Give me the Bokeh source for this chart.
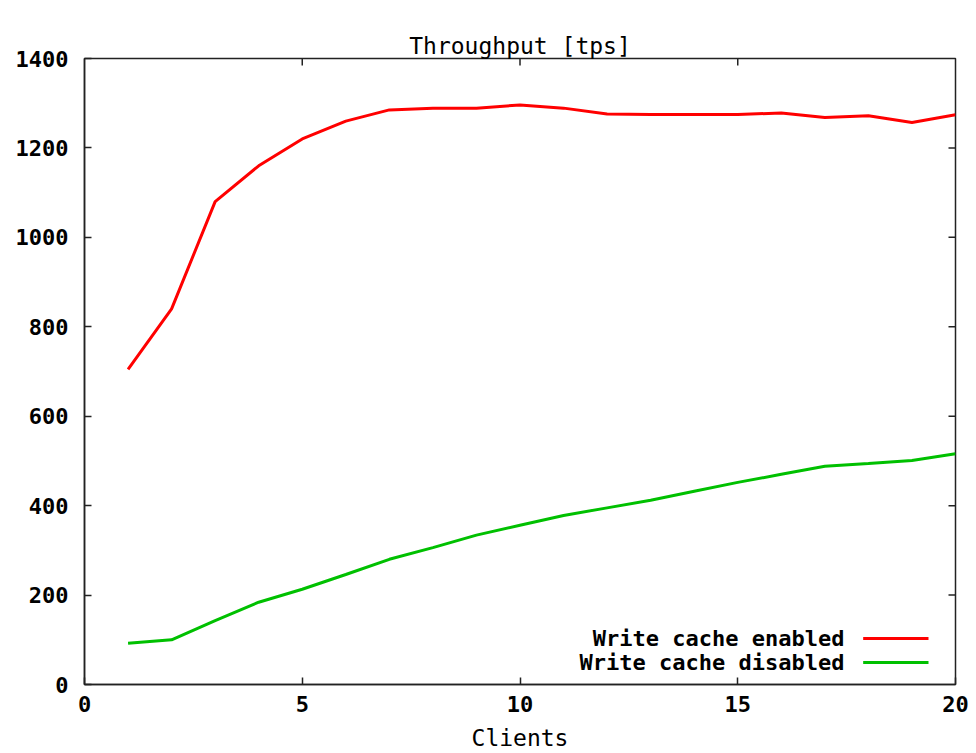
import math
from bokeh.plotting import figure
from bokeh.models import Range1d, FixedTicker, Label, Title, LinearAxis
from bokeh.embed import file_html
from bokeh.resources import INLINE

# Throughput measurements per number of clients
clients = list(range(1, 21))
tps_cache_enabled = [705, 840, 1080, 1160, 1220, 1260, 1285, 1289, 1289, 1296,
                     1289, 1276, 1275, 1275, 1275, 1278, 1268, 1272, 1257, 1274]
tps_cache_disabled = [92, 100, 143, 184, 213, 246, 280, 306, 334, 356,
                      378, 395, 412, 432, 452, 470, 488, 494, 501, 516]

series_labels = ["Write cache enabled", "Write cache disabled"]
series_colors = ["#ff0000", "#00c000"]

x_ticks = [0, 5, 10, 15, 20]
y_ticks = [0, 200, 400, 600, 800, 1000, 1200, 1400]
x_min, x_max = 0, 20
y_min, y_max = 0, 1400

FONT = "DejaVu Sans Mono"
AXIS_COLOR = "#222222"

p = figure(width=976, height=753, output_backend="svg", toolbar_location=None,
           x_range=Range1d(x_min, x_max), y_range=Range1d(y_min, y_max),
           min_border_left=84, min_border_right=21, min_border_top=58,
           min_border_bottom=20)
p.background_fill_color = "white"
p.border_fill_color = "white"
p.outline_line_color = AXIS_COLOR
p.outline_line_width = 1.5
p.xgrid.visible = False
p.ygrid.visible = False

xa = p.below[0]
ya = p.left[0]

# invisible top axis whose (hidden) outward ticks reserve a gap under the title
gap_axis = LinearAxis(ticker=FixedTicker(ticks=[]), axis_line_color=None,
                      major_tick_line_color=None, minor_tick_line_color=None,
                      major_tick_out=24, major_tick_in=0,
                      minor_tick_out=0, minor_tick_in=0)
p.add_layout(gap_axis, "above")

p.title = Title(text="Throughput [tps]", align="center",
                text_font=FONT, text_font_size="23px", text_font_style="normal",
                text_color="black", standoff=0)

xa.ticker = FixedTicker(ticks=x_ticks)
ya.ticker = FixedTicker(ticks=y_ticks)
for ax in (xa, ya):
    ax.axis_line_color = AXIS_COLOR
    ax.axis_line_width = 1.5
    ax.major_tick_line_color = AXIS_COLOR
    ax.major_tick_line_width = 1.5
    ax.major_tick_in = 7
    ax.major_tick_out = 0
    ax.minor_tick_line_color = None
    ax.major_label_text_font = FONT
    ax.major_label_text_font_style = "bold"
    ax.major_label_text_font_size = "22px"
    ax.major_label_text_color = "black"
xa.major_label_standoff = 11
ya.major_label_standoff = 16
xa.axis_label = "Clients"
xa.axis_label_text_font = FONT
xa.axis_label_text_font_size = "23px"
xa.axis_label_text_font_style = "normal"
xa.axis_label_text_color = "black"
xa.axis_label_standoff = 10

# mirrored tick marks on the top and right edges (half of each dash is clipped)
inner_x = [t for t in x_ticks if x_min < t < x_max]
inner_y = [t for t in y_ticks if y_min < t < y_max]
p.scatter(inner_x, [y_max] * len(inner_x), marker="dash", angle=math.pi / 2,
          size=14, line_color=AXIS_COLOR, line_width=1.5)
p.scatter([x_max] * len(inner_y), inner_y, marker="dash",
          size=14, line_color=AXIS_COLOR, line_width=1.5)

p.line(clients, tps_cache_enabled, line_color=series_colors[0], line_width=3)
p.line(clients, tps_cache_disabled, line_color=series_colors[1], line_width=3)

# key in the lower right corner: text right-aligned, sample line after it
key_rows_y = [103, 49]
for lbl, col, ky in zip(series_labels, series_colors, key_rows_y):
    p.add_layout(Label(x=17.45, y=ky, text=lbl, text_align="right",
                       text_baseline="middle", text_font=FONT,
                       text_font_size="22px", text_font_style="bold",
                       text_color="black"))
    p.line([17.88, 19.38], [ky, ky], line_color=col, line_width=3)

open("out.html", "w").write(file_html(p, INLINE))
